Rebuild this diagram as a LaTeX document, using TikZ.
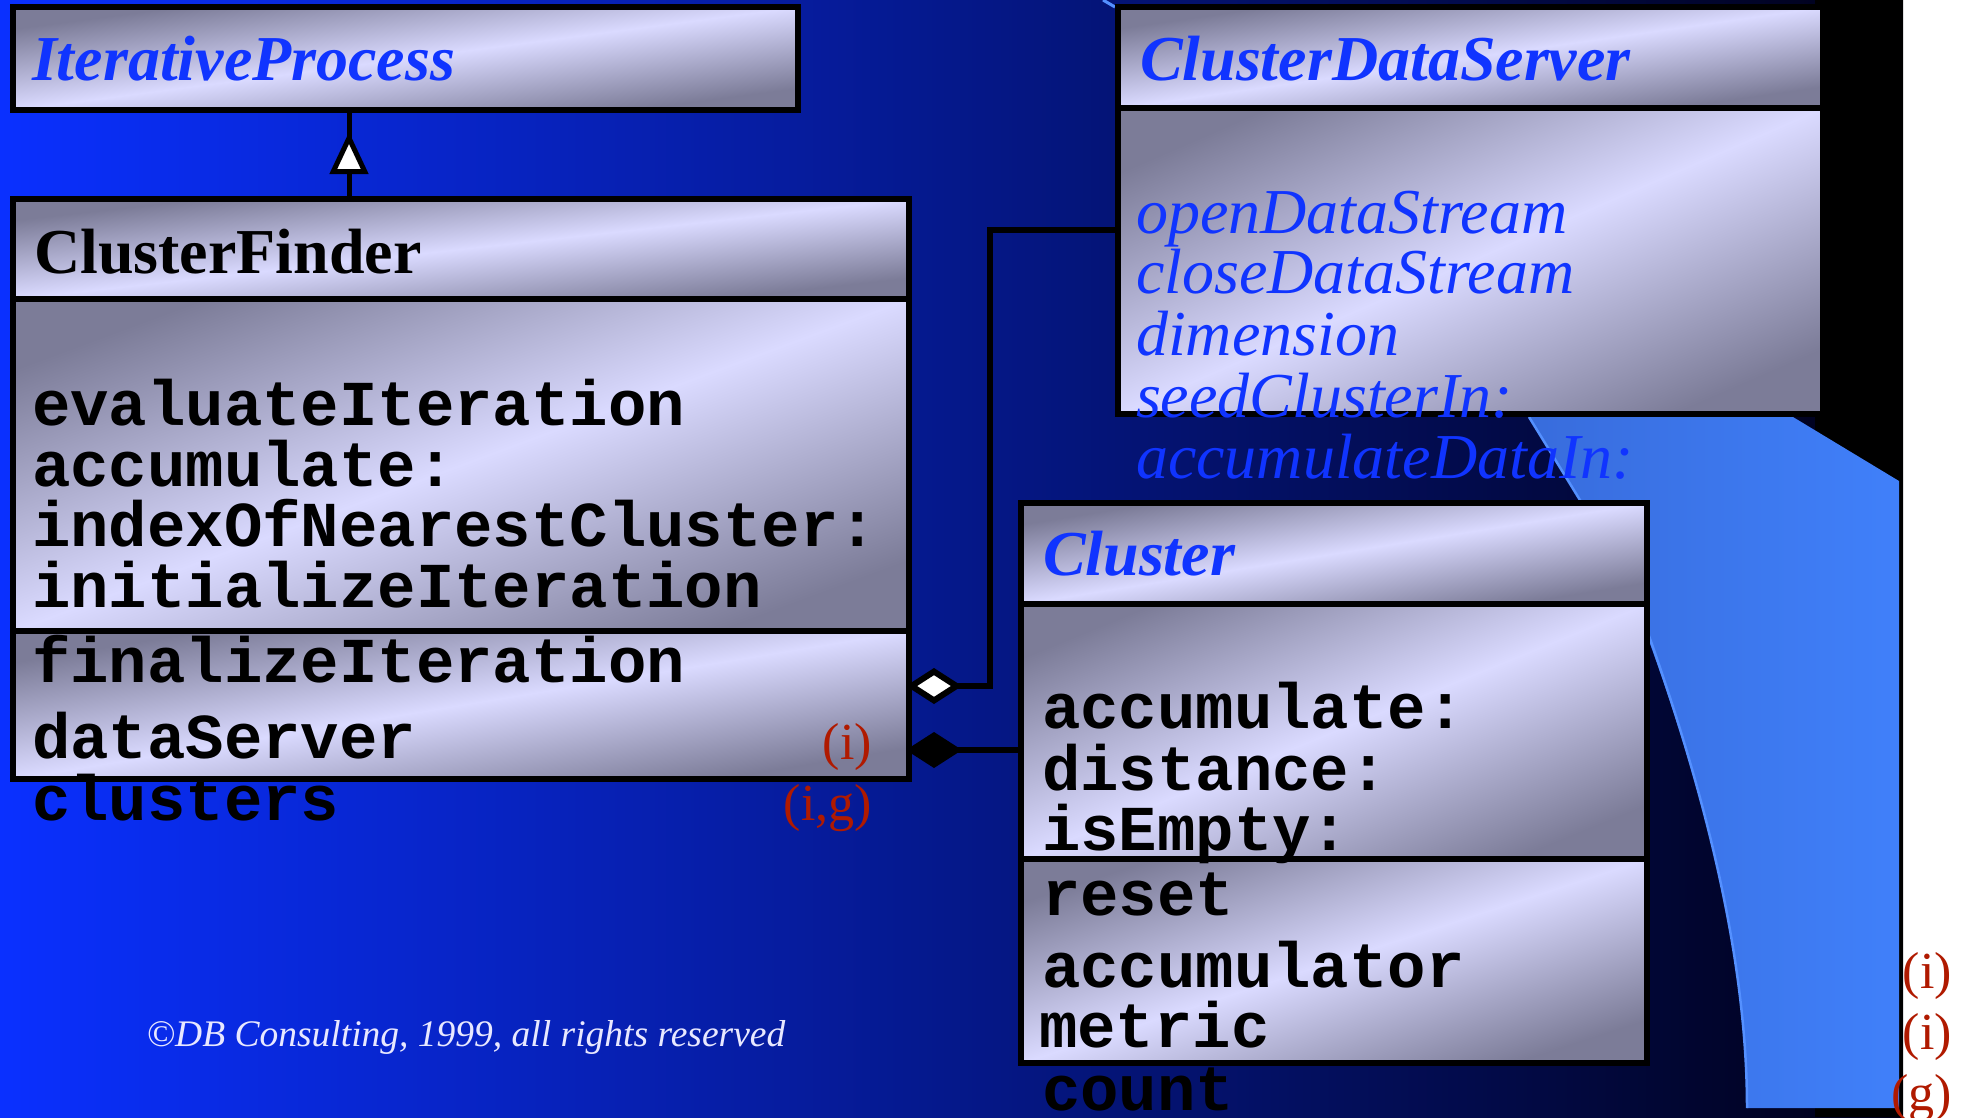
\documentclass[tikz,border=0pt]{standalone}
\usepackage{fontspec}
\setmainfont{Liberation Serif}
\setmonofont{Liberation Mono}
\usetikzlibrary{arrows.meta,calc}

\definecolor{bgleft}{RGB}{10,48,255}
\definecolor{bgright}{RGB}{0,0,22}
\definecolor{sdark}{RGB}{124,124,152}
\definecolor{slight}{RGB}{218,218,255}
\definecolor{umlblue}{RGB}{16,52,255}
\definecolor{tagred}{RGB}{176,26,0}
\definecolor{panelL}{RGB}{56,108,220}
\definecolor{panelR}{RGB}{64,128,250}
\definecolor{paneledge}{RGB}{84,144,255}
\definecolor{notewhite}{RGB}{232,232,255}

% silver sheen used for every class compartment
\pgfdeclarehorizontalshading{silver}{100bp}{%
  color(0bp)=(sdark); color(22bp)=(sdark); color(50bp)=(slight);
  color(78bp)=(sdark); color(100bp)=(sdark)}

% fill a compartment (left, top, width, height) with the sheen running corner to corner
\newcommand\silverfill[4]{%
  \shade[shading=silver, shading angle=-45,
    transform canvas={shift={(#1,#2)}, xscale=#3/100, yscale=#4/100}]
    (0,0) rectangle (100,100);}

\newcommand\bigtext{\fontsize{64bp}{70bp}\selectfont}
\newcommand\tagtext{\fontsize{52bp}{58bp}\selectfont}
\newcommand\notetext{\fontsize{37.5bp}{44bp}\selectfont}

\begin{document}
\begin{tikzpicture}[x=1bp, y=-1bp,
  every node/.style={inner sep=0pt, outer sep=0pt},
  compart/.style={rectangle, draw=black, line width=6bp, anchor=north west},
  classname/.style={anchor=base west, text=umlblue, font=\bigtext\bfseries\itshape},
  member/.style={anchor=base west, text=black, font=\bigtext\ttfamily\bfseries},
  operation/.style={anchor=base west, text=umlblue, font=\bigtext\itshape},
  tag/.style={anchor=base east, text=tagred, font=\tagtext},
  link/.style={draw=black, line width=6bp},
]
\useasboundingbox (0,0) rectangle (1968,1117);

% ---- backdrop ----
\fill[white] (0,0) rectangle (1968,1117);
\shade[left color=bgleft, right color=bgright] (0,0) rectangle (1903,1117);
\fill[black] (1815,0) rectangle (1903,1117);
\shade[left color=panelL, right color=panelR]
  (1529,417) -- (1793,417) -- (1899,481) -- (1899,1108) -- (1747,1108)
  .. controls (1747,950) and (1700,780) .. (1645,630)
  -- (1645,505) -- (1583,505) -- cycle;
\draw[paneledge, line width=2.5bp] (1529,417) -- (1583,505);
\draw[paneledge, line width=2.5bp] (1747,1108) .. controls (1747,950) and (1700,780) .. (1649,636);
\draw[paneledge, line width=3bp] (1103,0) -- (1115,7);

% ---- compartment sheens ----
\silverfill{13}{7}{785}{103}
\silverfill{13}{199}{896}{100}
\silverfill{13}{299}{896}{332}
\silverfill{13}{631}{896}{148}
\silverfill{1118}{7}{705}{101}
\silverfill{1118}{108}{705}{306}
\silverfill{1021}{503}{626}{101}
\silverfill{1021}{604}{626}{255}
\silverfill{1021}{859}{626}{204}

% ---- IterativeProcess ----
\node[compart, minimum width=785bp, minimum height=103bp] (iphead) at (13,7) {};
\node[classname] (ipname) at (32,80) {IterativeProcess};

% ---- ClusterFinder ----
\node[compart, minimum width=896bp, minimum height=100bp] (cfhead) at (13,199) {};
\node[compart, minimum width=896bp, minimum height=332bp] (cfbody) at (13,299) {};
\node[compart, minimum width=896bp, minimum height=148bp] (cfops) at (13,631) {};
\node[anchor=base west, font=\bigtext\bfseries] (cfname) at (34,273) {ClusterFinder};
\node[member] (cf1) at (32,425) {evaluateIteration};
\node[member] (cf2) at (32,486) {accumulate:};
\node[member] (cf3) at (32,546) {indexOfNearestCluster:};
\node[member] (cf4) at (32,607) {initializeIteration};
\node[member] (cf5) at (32,682) {finalizeIteration};
\node[member] (cf6) at (32,758) {dataServer};
\node[member] (cf7) at (32,820) {clusters};
\node[tag] (cft1) at (872,759) {(i)};
\node[tag] (cft2) at (872,820) {(i,g)};

% ---- ClusterDataServer ----
\node[compart, minimum width=705bp, minimum height=101bp] (cdshead) at (1118,7) {};
\node[compart, minimum width=705bp, minimum height=306bp] (cdsbody) at (1118,108) {};
\node[classname] (cdsname) at (1140,80) {ClusterDataServer};
\node[operation] (ds1) at (1136,233) {openDataStream};
\node[operation] (ds2) at (1136,293) {closeDataStream};
\node[operation] (ds3) at (1136,355) {dimension};
\node[operation] (ds4) at (1136,417) {seedClusterIn:};
\node[operation] (ds5) at (1136,478) {accumulateDataIn:};

% ---- Cluster ----
\node[compart, minimum width=626bp, minimum height=101bp] (clhead) at (1021,503) {};
\node[compart, minimum width=626bp, minimum height=255bp] (clbody) at (1021,604) {};
\node[compart, minimum width=626bp, minimum height=204bp] (clops) at (1021,859) {};
\node[classname] (clname) at (1043,575) {Cluster};
\node[member] (cl1) at (1042,728) {accumulate:};
\node[member] (cl2) at (1042,790) {distance:};
\node[member] (cl3) at (1042,850) {isEmpty:};
\node[member] (cl4) at (1042,915) {reset};
\node[member] (cl5) at (1042,987) {accumulator};
\node[member] (cl6) at (1039,1047) {metric};
\node[member] (cl7) at (1042,1110) {count};
\node[tag] (clt1) at (1952,988) {(i)};
\node[tag] (clt2) at (1952,1049) {(i)};
\node[tag] (clt3) at (1952,1110) {(g)};

% ---- relations ----
% ClusterFinder specialises IterativeProcess
\coordinate (gentip) at (349,132);
\coordinate (genbase) at (349,199);
\draw[link, line width=5bp] (genbase) -- (iphead.south -| gentip);
\draw[link, line width=5bp, -{Triangle[fill=white, length=42bp, width=38bp]}]
  (genbase) -- (gentip);
% aggregation of the data server
\coordinate (dsIn) at (1118,230);
\coordinate (dsOut) at (906,686);
\draw[link, -{Diamond[fill=white, length=56bp, width=36bp]}]
  (dsIn) -| (990,686) -- (dsOut);
% composition of the clusters
\coordinate (clIn) at (1021,750);
\coordinate (clOut) at (906,750);
\draw[link, -{Diamond[fill=black, length=56bp, width=36bp]}] (clIn) -- (clOut);

% ---- footer ----
\node[anchor=base, text=notewhite, font=\notetext\itshape] (note) at (466,1046)
  {\textcopyright DB Consulting, 1999, all rights reserved};
\end{tikzpicture}
\end{document}
